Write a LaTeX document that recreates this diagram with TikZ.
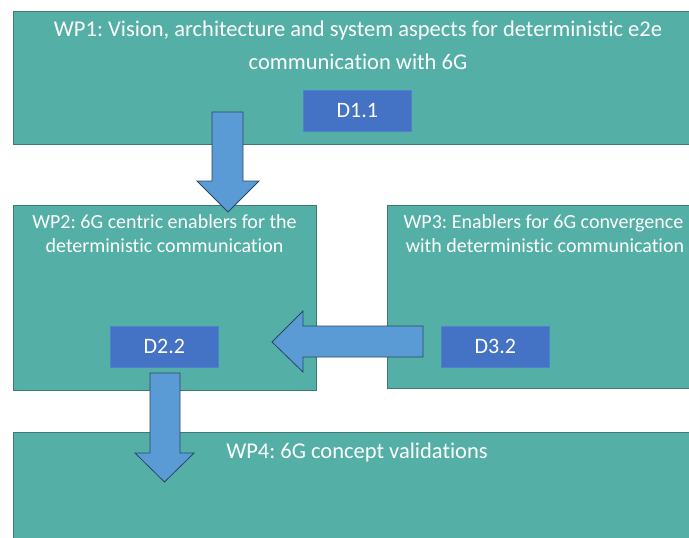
\documentclass[tikz,border=0pt]{standalone}
\usepackage{fontspec}
\setmainfont[Ligatures=NoCommon]{Carlito}
\frenchspacing
\definecolor{wpfill}{RGB}{84,176,166}
\definecolor{wpline}{RGB}{62,122,116}
\definecolor{delfill}{RGB}{68,114,196}
\definecolor{delline}{RGB}{78,130,205}
\definecolor{arrfill}{RGB}{91,155,213}
\definecolor{arrline}{RGB}{40,70,100}
\tikzset{
  wpbox/.style={draw=wpline, fill=wpfill, line width=0.9pt, anchor=north west, inner sep=0pt},
  wptext/.style={text=white, font=\fontsize{22.5}{26}\selectfont, inner sep=0pt, anchor=base},
  wpsmall/.style={wptext, font=\fontsize{20}{24}\selectfont},
  delbox/.style={draw=delline, fill=delfill, line width=0.6pt, minimum width=108pt, minimum height=41pt,
    anchor=north west, inner sep=0pt, text=white, font=\fontsize{22}{26}\selectfont}
}
\tikzset{
  blockarrow/.style={draw=arrline, fill=arrfill, line width=0.8pt, line join=miter}
}
\begin{document}
\begin{tikzpicture}[x=1pt,y=-1pt]
\useasboundingbox (0,0) rectangle (689,538);
\clip (0,0) rectangle (689,538);

% work package boxes
\node[wpbox, minimum width=690pt, minimum height=133pt] (wp1) at (13,11) {};
\node[wpbox, minimum width=303pt, minimum height=185pt] (wp2) at (13,205) {};
\node[wpbox, minimum width=314pt, minimum height=183pt] (wp3) at (387,205) {};
\node[wpbox, minimum width=690pt, minimum height=130pt] (wp4) at (13,432) {};

% titles, one node per line
\node[wptext] (t1a) at (358,36) {WP1: Vision, architecture and system aspects for deterministic e2e};
\node[wptext] (t1b) at (358,69) {communication with 6G};
\node[wpsmall] (t2a) at (164.5,228) {WP2: 6G centric enablers for the};
\node[wpsmall] (t2b) at (164.5,252) {deterministic communication};
\node[wpsmall] (t3a) at (543.5,228) {WP3: Enablers for 6G convergence};
\node[wpsmall] (t3b) at (545,252) {with deterministic communication};
\node[wptext] (t4) at (357,458) {WP4: 6G concept validations};

% deliverables
\node[delbox] (d11) at (303,90) {D1.1};
\node[delbox] (d22) at (110,326) {D2.2};
\node[delbox] (d32) at (441,326) {D3.2};

% block arrows
\draw[blockarrow] (212,112) -- (243,112) -- (243,181) -- (259,181) -- (228,212)
  -- (197,181) -- (212,181) -- cycle;
\draw[blockarrow] (423,326) -- (423,357) -- (303,357) -- (303,372) -- (272,342)
  -- (303,311) -- (303,326) -- cycle;
\draw[blockarrow] (150,373) -- (180,373) -- (180,453) -- (194,453) -- (164.5,482)
  -- (135,453) -- (150,453) -- cycle;
\end{tikzpicture}
\end{document}
